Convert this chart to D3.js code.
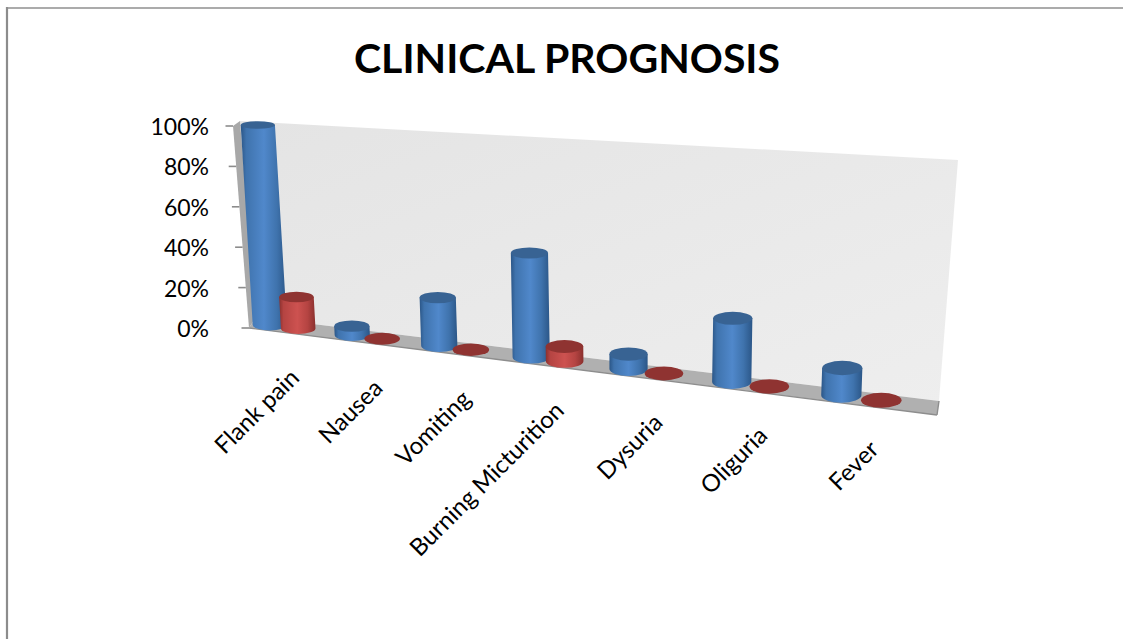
<!DOCTYPE html>
<html>
<head>
<meta charset="utf-8">
<script src="https://cdn.jsdelivr.net/npm/d3@7"></script>
<style>
html,body{margin:0;padding:0;background:#fff;overflow:hidden}
text{font-family:Lato,"Open Sans",sans-serif;fill:#000}
</style>
</head>
<body>
<script>
const categories = ["Flank pain","Nausea","Vomiting","Burning Micturition","Dysuria","Oliguria","Fever"];
const seriesBlue = [100,4.5,23.5,49,7,28.5,12];
const seriesRed = [16,0,0,7,0,0,0];
const valueTicks = [0,20,40,60,80,100];

const W = 1126, H = 639;
const svg = d3.select("body").append("svg").attr("width",W).attr("height",H);
const defs = svg.append("defs");

// Unit square to quad projective transform, used for the receding chart plane.
function makeHomography(p00,p10,p11,p01){
  const dx1=p10[0]-p11[0], dx2=p01[0]-p11[0], sx=p00[0]-p10[0]+p11[0]-p01[0];
  const dy1=p10[1]-p11[1], dy2=p01[1]-p11[1], sy=p00[1]-p10[1]+p11[1]-p01[1];
  const den=dx1*dy2-dx2*dy1;
  const g=(sx*dy2-dx2*sy)/den, h=(dx1*sy-sx*dy1)/den;
  const a=p10[0]-p00[0]+g*p10[0], b=p01[0]-p00[0]+h*p01[0], c=p00[0];
  const d=p10[1]-p00[1]+g*p10[1], e=p01[1]-p00[1]+h*p01[1], f=p00[1];
  return (u,v)=>{const w=g*u+h*v+1;return [(a*u+b*v+c)/w,(d*u+e*v+f)/w];};
}
const project = makeHomography([252.5,322.8],[932,406.5],[944,165],[240,124]);

const band = d3.scaleBand().domain(categories).range([0,1]);
const seriesPos = d3.scaleLinear().domain([0,1]).range([0.031,0.081]);
const vScale = d3.scaleLinear().domain([0,100]).range([0,1]);

// Frame of the chart area
svg.append("line").attr("x1",7).attr("x2",7).attr("y1",7).attr("y2",H).attr("stroke","#8c8c8c").attr("stroke-width",2.2);
svg.append("line").attr("x1",6).attr("x2",1123).attr("y1",8).attr("y2",8).attr("stroke","#8f8f8f").attr("stroke-width",1.3);

// Title
svg.append("text").attr("x",567).attr("y",73).attr("text-anchor","middle")
  .attr("font-size",41).attr("font-weight",700).text("CLINICAL PROGNOSIS");

// Back wall
const wallGrad = defs.append("linearGradient").attr("id","wall")
  .attr("x1","0").attr("y1","0").attr("x2","1").attr("y2","1");
wallGrad.append("stop").attr("offset","0").attr("stop-color","#e4e4e4");
wallGrad.append("stop").attr("offset","1").attr("stop-color","#eeeeee");
const poly = (pts,fill)=>svg.append("polygon").attr("points",pts.map(p=>p.join(",")).join(" ")).attr("fill",fill);
poly([[240,121],[958,160],[939,401],[256,317]],"url(#wall)");

// Floor strip and its darker front edge
poly([[256,317],[939,401],[937,415],[249,328]],"#b0b0b0");
svg.append("line").attr("x1",249).attr("y1",328).attr("x2",937).attr("y2",415).attr("stroke","#8d8d8d").attr("stroke-width",1.4);
svg.append("line").attr("x1",939).attr("y1",401).attr("x2",937).attr("y2",415).attr("stroke","#8d8d8d").attr("stroke-width",1.4);

// Side wall strip
poly([[233,126],[240,121],[256,317],[249,328]],"#a8a8a8");

// Value axis along the side wall
const tickY = d3.scaleLinear().domain([0,100]).range([328,126]);
const tickX = d3.scaleLinear().domain([0,100]).range([249,233]);
const axis = svg.append("g");
valueTicks.forEach(t=>{
  axis.append("line").attr("x1",tickX(t)-7.5).attr("x2",tickX(t)).attr("y1",tickY(t)).attr("y2",tickY(t))
    .attr("stroke","#8c8c8c").attr("stroke-width",1.6);
  axis.append("text").attr("x",209).attr("y",tickY(t)+9).attr("text-anchor","end")
    .attr("font-size",23).text(t+"%");
});

// Cylinder side shading
function sideGradient(id,edge,mid,light){
  const g=defs.append("linearGradient").attr("id",id);
  [[0,edge],[0.12,mid],[0.5,light],[0.78,mid],[1,edge]].forEach(s=>
    g.append("stop").attr("offset",s[0]).attr("stop-color",s[1]));
}
sideGradient("sideBlue","#2b5687","#3f73ad","#5088cb");
sideGradient("sideRed","#8a302e","#b54442","#cd5250");

const tops = {sideBlue:"#386393", sideRed:"#8f3331"};
const rxAt = d3.scaleLinear().domain([0,1]).range([17,20.5]);
const ryAt = d3.scaleLinear().domain([0,1]).range([5.4,7.7]);

function cylinder(u,value,sideId){
  const v=vScale(value);
  const b=project(u,0), t=project(u,v);
  const rx=rxAt(u), ryB=ryAt(u), ryT=ryB*(1-0.3*v);
  const g=svg.append("g");
  if(value>0){
    g.append("path").attr("fill",`url(#${sideId})`)
      .attr("d",`M${t[0]-rx},${t[1]}L${b[0]-rx},${b[1]}A${rx},${ryB} 0 0 0 ${b[0]+rx},${b[1]}L${t[0]+rx},${t[1]}Z`);
  }
  g.append("ellipse").attr("cx",t[0]).attr("cy",t[1]).attr("rx",rx).attr("ry",ryT)
    .attr("fill",tops[sideId]);
}

categories.forEach((c,i)=>{
  const u0=band(c);
  cylinder(u0+seriesPos(0),seriesBlue[i],"sideBlue");
  cylinder(u0+seriesPos(1),seriesRed[i],"sideRed");
});

// Category labels, rotated and hanging off the floor's front edge
categories.forEach(c=>{
  const p=project(band(c)+0.066,0);
  svg.append("text")
    .attr("transform",`translate(${p[0]+11},${p[1]+52}) rotate(-45)`)
    .attr("text-anchor","end").attr("font-size",24).text(c);
});
</script>
</body>
</html>
